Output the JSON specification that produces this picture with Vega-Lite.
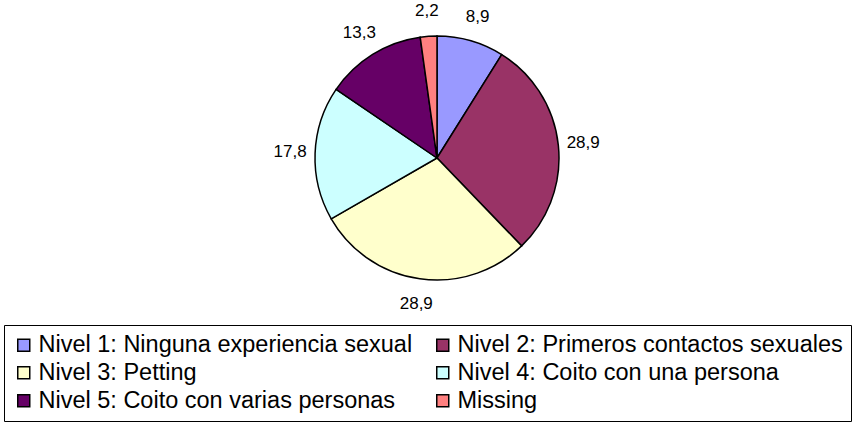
{
  "$schema": "https://vega.github.io/schema/vega-lite/v6.json",
  "width": 874,
  "height": 316,
  "autosize": {"type": "pad"},
  "padding": 0,
  "background": "white",
  "config": {
    "view": {"stroke": null},
    "locale": {"number": {"decimal": ",", "thousands": ".", "grouping": [3], "currency": ["", " €"]}}
  },
  "data": {
    "values": [
      {"nivel": "Nivel 1: Ninguna experiencia sexual", "pct": 8.9, "orden": 1},
      {"nivel": "Nivel 2: Primeros contactos sexuales", "pct": 28.9, "orden": 2},
      {"nivel": "Nivel 3: Petting", "pct": 28.9, "orden": 3},
      {"nivel": "Nivel 4: Coito con una persona", "pct": 17.8, "orden": 4},
      {"nivel": "Nivel 5: Coito con varias personas", "pct": 13.3, "orden": 5},
      {"nivel": "Missing", "pct": 2.2, "orden": 6}
    ]
  },
  "encoding": {
    "theta": {"field": "pct", "type": "quantitative", "stack": true},
    "order": {"field": "orden", "type": "quantitative"}
  },
  "layer": [
    {
      "mark": {"type": "arc", "outerRadius": 122, "stroke": "black", "strokeWidth": 1.5},
      "encoding": {
        "color": {
          "field": "nivel",
          "type": "nominal",
          "scale": {
            "domain": [
              "Nivel 1: Ninguna experiencia sexual",
              "Nivel 2: Primeros contactos sexuales",
              "Nivel 3: Petting",
              "Nivel 4: Coito con una persona",
              "Nivel 5: Coito con varias personas",
              "Missing"
            ],
            "range": ["#9999FF", "#993366", "#FFFFCC", "#CCFFFF", "#660066", "#FF8080"]
          },
          "legend": {
            "title": null,
            "orient": "none",
            "direction": "horizontal",
            "legendX": 4,
            "legendY": 325,
            "columns": 2,
            "strokeColor": "black",
            "fillColor": "white",
            "padding": 8,
            "symbolType": "square",
            "symbolSize": 144,
            "symbolStrokeColor": "black",
            "symbolStrokeWidth": 1.5,
            "symbolOpacity": 1,
            "labelFont": "Liberation Sans",
            "labelFontSize": 23.5,
            "labelColor": "black",
            "labelOffset": 3,
            "labelLimit": 0,
            "columnPadding": 18,
            "rowPadding": 3
          }
        }
      }
    },
    {
      "mark": {"type": "text", "radius": 147, "font": "Liberation Sans", "fontSize": 17, "color": "black"},
      "encoding": {
        "text": {"field": "pct", "type": "quantitative", "format": ".1f"}
      }
    }
  ]
}
